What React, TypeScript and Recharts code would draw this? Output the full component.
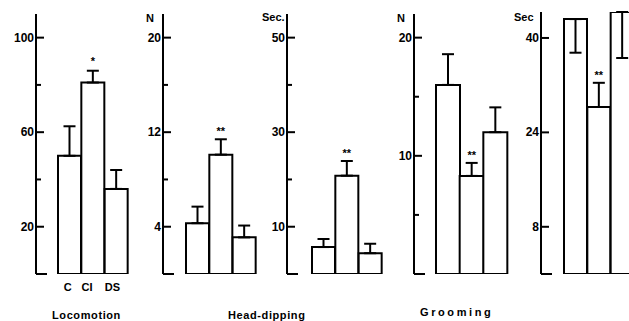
import React from 'react';
import { BarChart, Bar, XAxis, YAxis, ErrorBar, LabelList } from 'recharts';

const categories = ['C', 'CI', 'DS'];

const locomotionValues = [50, 81, 36];
const locomotionErr = [12.5, 5, 8];
const locomotionSig = ['', '*', ''];
const locomotionTicks = [0, 20, 40, 60, 80, 100];
const locomotionLabeled = [20, 60, 100];

const headDipNValues = [4.3, 10.1, 3.1];
const headDipNErr = [1.4, 1.3, 1.0];
const headDipNSig = ['', '**', ''];
const headDipNTicks = [0, 4, 8, 12, 16, 20];
const headDipNLabeled = [4, 12, 20];

const headDipSecValues = [5.7, 20.8, 4.4];
const headDipSecErr = [1.7, 3.1, 2.0];
const headDipSecSig = ['', '**', ''];
const headDipSecTicks = [0, 10, 20, 30, 40, 50];
const headDipSecLabeled = [10, 30, 50];

const groomNValues = [16.0, 8.3, 12.0];
const groomNErr = [2.6, 1.1, 2.1];
const groomNSig = ['', '**', ''];
const groomNTicks = [0, 5, 10, 15, 20];
const groomNLabeled = [10, 20];

const groomSecValues = [43.2, 28.3, 44.4];
const groomSecErr = [5.7, 4.1, 7.8];
const groomSecErrDir = ['down', 'up', 'down'];
const groomSecSig = ['', '**', ''];
const groomSecTicks = [0, 8, 24, 40];
const groomSecLabeled = [8, 24, 40];

const FONT = '"Liberation Sans", Arial, sans-serif';
const AX = 40;

function build(values: number[], errs: number[], sig: string[], dirs?: string[]) {
  return categories.map((c, i) => ({
    cat: c,
    v: values[i],
    err: dirs && dirs[i] === 'down' ? [errs[i], 0] : [0, errs[i]],
    errTop: dirs && dirs[i] === 'down' ? 0 : errs[i],
    sig: sig[i],
  }));
}

const makeYTick = (labeled: number[]) => (props: any) => {
  const { y, payload } = props;
  const v = payload.value;
  const major = labeled.includes(v);
  const len = v === 0 ? 11 : major ? 8 : 5;
  return (
    <g>
      <line x1={AX} x2={AX + len} y1={y} y2={y} stroke="#000" strokeWidth={2} />
      {major && (
        <text x={AX - 2} y={y} dy={4} textAnchor="end" fontSize={12} fontWeight={700} fontFamily={FONT} fill="#000">
          {v}
        </text>
      )}
    </g>
  );
};

const catShift = [-2, -6, -4];
const XTick = (props: any) => {
  const { x, y, payload, index } = props;
  return (
    <text x={x + (catShift[index] || 0)} y={y} dy={9} textAnchor="middle" fontSize={11} fontWeight={700} fontFamily={FONT} fill="#000">
      {payload.value}
    </text>
  );
};

const makeSig = (lift: number, data: any[], scale: number) => (props: any) => {
  const { x, y, width, index } = props;
  const s = data[index]?.sig;
  if (!s) return null;
  const above = data[index].errTop * scale;
  return (
    <text x={x + width / 2} y={y - above - lift} textAnchor="middle" fontSize={11} fontWeight={700} fontFamily={FONT} fill="#000">
      {s}
    </text>
  );
};

type PanelProps = {
  axisX: number;
  barStart: number;
  barEnd: number;
  top: number;
  max: number;
  ticks: number[];
  labeled: number[];
  data: any[];
  showCats?: boolean;
  lift: number;
};

function Panel({ axisX, barStart, barEnd, top, max, ticks, labeled, data, showCats, lift }: PanelProps) {
  const plotW = barEnd - axisX;
  const width = AX + plotW + 3;
  const scale = (274 - top) / max;
  return (
    <div style={{ position: 'absolute', left: axisX - AX, top: 0 }}>
      <BarChart
        width={width}
        height={321}
        data={data}
        margin={{ top, right: 3, left: 0, bottom: 17 }}
        barCategoryGap={0}
        barGap={0}
      >
        <XAxis
          dataKey="cat"
          height={30}
          axisLine={false}
          tickLine={false}
          tick={showCats ? <XTick /> : false}
          padding={{ left: barStart - axisX, right: 0 }}
          interval={0}
        />
        <YAxis
          width={AX}
          domain={[0, max]}
          ticks={ticks}
          interval={0}
          tickLine={false}
          axisLine={{ stroke: '#000', strokeWidth: 2 }}
          tick={makeYTick(labeled)}
          allowDataOverflow
        />
        <Bar dataKey="v" fill="#fff" stroke="#000" strokeWidth={2} isAnimationActive={false}>
          <ErrorBar dataKey="err" width={6} stroke="#000" strokeWidth={2} direction="y" />
          <LabelList dataKey="sig" content={makeSig(lift, data, scale)} />
        </Bar>
      </BarChart>
    </div>
  );
}

const textStyle: React.CSSProperties = {
  position: 'absolute',
  fontFamily: FONT,
  fontWeight: 700,
  fontSize: 11,
  color: '#000',
  whiteSpace: 'nowrap',
  lineHeight: '12px',
};

export default function App() {
  return (
    <div style={{ position: 'fixed', left: 0, top: 0, width: 629, height: 321, overflow: 'hidden', background: '#fff' }}>
      <Panel axisX={36} barStart={58} barEnd={128} top={14} max={110} ticks={locomotionTicks} labeled={locomotionLabeled}
        data={build(locomotionValues, locomotionErr, locomotionSig)} showCats lift={6} />
      <Panel axisX={163} barStart={186} barEnd={256} top={14} max={22} ticks={headDipNTicks} labeled={headDipNLabeled}
        data={build(headDipNValues, headDipNErr, headDipNSig)} lift={4} />
      <Panel axisX={287} barStart={312} barEnd={382} top={14} max={55} ticks={headDipSecTicks} labeled={headDipSecLabeled}
        data={build(headDipSecValues, headDipSecErr, headDipSecSig)} lift={4} />
      <Panel axisX={414} barStart={436} barEnd={507} top={14} max={22} ticks={groomNTicks} labeled={groomNLabeled}
        data={build(groomNValues, groomNErr, groomNSig)} lift={4} />
      <Panel axisX={541} barStart={564} barEnd={634} top={12} max={44.4} ticks={groomSecTicks} labeled={groomSecLabeled}
        data={build(groomSecValues, groomSecErr, groomSecSig, groomSecErrDir)} lift={4} />

      <div style={{ ...textStyle, left: 146, top: 12 }}>N</div>
      <div style={{ ...textStyle, left: 262, top: 11 }}>Sec.</div>
      <div style={{ ...textStyle, left: 397, top: 12 }}>N</div>
      <div style={{ ...textStyle, left: 514, top: 11 }}>Sec</div>

      <div style={{ ...textStyle, left: 52, top: 309, letterSpacing: 0.6 }}>Locomotion</div>
      <div style={{ ...textStyle, left: 228, top: 309, letterSpacing: 0.6 }}>Head-dipping</div>
      <div style={{ ...textStyle, left: 420, top: 306, letterSpacing: 2.6 }}>Grooming</div>
    </div>
  );
}
